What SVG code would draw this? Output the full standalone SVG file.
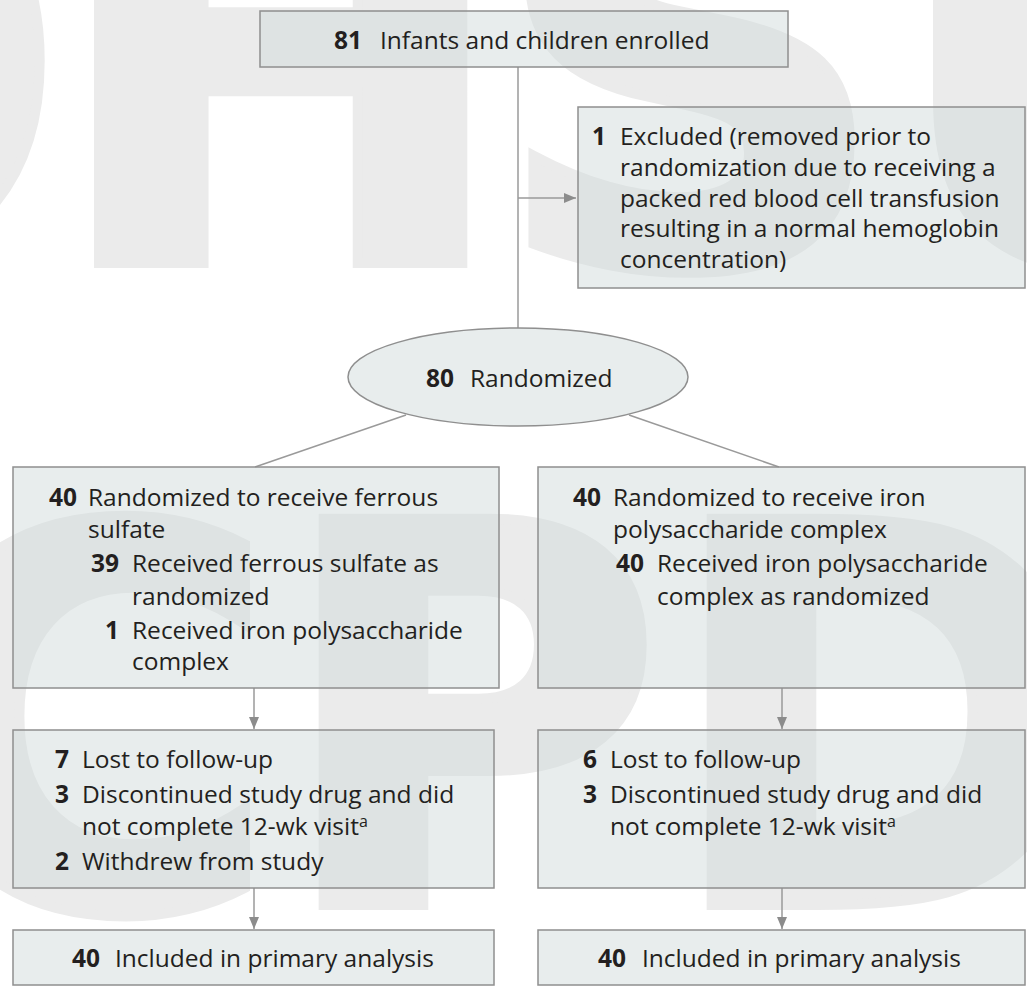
<svg xmlns="http://www.w3.org/2000/svg" width="1027" height="988" viewBox="0 0 1027 988">
<style>
.wm { font-family: "DejaVu Sans", sans-serif; font-weight: bold; fill: #ebebeb; stroke: #ebebeb; stroke-width: 10; stroke-linejoin: miter; }
.wt { font-size: 556px; }
.wb { font-size: 530px; }
.box { fill: #d1dbdb; fill-opacity: 0.5; stroke: #8f8f8f; stroke-width: 1.5; }
.t { font-family: "Open Sans", "Liberation Sans", sans-serif; font-size: 24.5px; fill: #231f20; }
.n { font-weight: bold; }
.c { stroke: #9a9a9a; stroke-width: 1.5; fill: none; }
.sup { font-size: 16px; }
</style>
<defs>
<marker id="ah" markerUnits="userSpaceOnUse" markerWidth="12" markerHeight="10" refX="12" refY="5" orient="auto">
<path d="M0,0 L12,5 L0,10 z" fill="#8c8c8c"/>
</marker>
</defs>
<rect width="1027" height="988" fill="#ffffff"/>
<g id="watermark">
<text class="wm wt" x="-405" y="263">O</text>
<text class="wm wt" x="48" y="263">H</text>
<text class="wm wt" x="490" y="265">S</text>
<text class="wm wt" x="887" y="263">U</text>
<text class="wm wb" x="-110" y="909">C</text>
<text class="wm wb" x="275" y="905">P</text>
<text class="wm wb" x="663" y="905">D</text>
</g>
<g id="connectors">
<line class="c" x1="518" y1="67" x2="518" y2="328"/>
<line class="c" x1="518" y1="198" x2="576" y2="198" marker-end="url(#ah)"/>
<line class="c" x1="406" y1="415" x2="255" y2="467"/>
<line class="c" x1="629" y1="415" x2="779" y2="467"/>
<line class="c" x1="254" y1="688" x2="254" y2="729" marker-end="url(#ah)"/>
<line class="c" x1="782" y1="688" x2="782" y2="729" marker-end="url(#ah)"/>
<line class="c" x1="254" y1="888" x2="254" y2="929" marker-end="url(#ah)"/>
<line class="c" x1="782" y1="888" x2="782" y2="929" marker-end="url(#ah)"/>
</g>
<g id="enrolled">
<rect class="box" x="260" y="11" width="528" height="56"/>
<text class="t n" x="334" y="49">81</text>
<text class="t" x="380" y="49">Infants and children enrolled</text>
</g>
<g id="excluded">
<rect class="box" x="578" y="107" width="447" height="181"/>
<text class="t n" x="606" y="145" text-anchor="end">1</text>
<text class="t" x="620" y="145">Excluded (removed prior to</text>
<text class="t" x="620" y="176">randomization due to receiving a</text>
<text class="t" x="620" y="207">packed red blood cell transfusion</text>
<text class="t" x="620" y="237">resulting in a normal hemoglobin</text>
<text class="t" x="620" y="268">concentration)</text>
</g>
<g id="randomized">
<ellipse class="box" cx="518" cy="377" rx="170" ry="49"/>
<text class="t n" x="426" y="387">80</text>
<text class="t" x="470" y="387">Randomized</text>
</g>
<g id="ferrous">
<rect class="box" x="13" y="467" width="486" height="221"/>
<text class="t n" x="77" y="506" text-anchor="end">40</text>
<text class="t" x="88" y="506">Randomized to receive ferrous</text>
<text class="t" x="88" y="538">sulfate</text>
<text class="t n" x="119" y="572" text-anchor="end">39</text>
<text class="t" x="132" y="572">Received ferrous sulfate as</text>
<text class="t" x="132" y="605">randomized</text>
<text class="t n" x="119" y="639" text-anchor="end">1</text>
<text class="t" x="132" y="639">Received iron polysaccharide</text>
<text class="t" x="132" y="670">complex</text>
</g>
<g id="ips">
<rect class="box" x="538" y="467" width="487" height="221"/>
<text class="t n" x="601" y="506" text-anchor="end">40</text>
<text class="t" x="613" y="506">Randomized to receive iron</text>
<text class="t" x="613" y="538">polysaccharide complex</text>
<text class="t n" x="644" y="572" text-anchor="end">40</text>
<text class="t" x="657" y="572">Received iron polysaccharide</text>
<text class="t" x="657" y="605">complex as randomized</text>
</g>
<g id="lost-ferrous">
<rect class="box" x="13" y="730" width="481" height="158"/>
<text class="t n" x="69" y="768" text-anchor="end">7</text>
<text class="t" x="82" y="768">Lost to follow-up</text>
<text class="t n" x="69" y="803" text-anchor="end">3</text>
<text class="t" x="82" y="803">Discontinued study drug and did</text>
<text class="t" x="82" y="835">not complete 12-wk visit<tspan class="sup" dy="-8">a</tspan></text>
<text class="t n" x="69" y="870" text-anchor="end">2</text>
<text class="t" x="82" y="870">Withdrew from study</text>
</g>
<g id="lost-ips">
<rect class="box" x="538" y="730" width="487" height="158"/>
<text class="t n" x="597" y="768" text-anchor="end">6</text>
<text class="t" x="610" y="768">Lost to follow-up</text>
<text class="t n" x="597" y="803" text-anchor="end">3</text>
<text class="t" x="610" y="803">Discontinued study drug and did</text>
<text class="t" x="610" y="835">not complete 12-wk visit<tspan class="sup" dy="-8">a</tspan></text>
</g>
<g id="analysis-ferrous">
<rect class="box" x="13" y="930" width="481" height="55"/>
<text class="t n" x="72" y="967">40</text>
<text class="t" x="115" y="967">Included in primary analysis</text>
</g>
<g id="analysis-ips">
<rect class="box" x="538" y="930" width="487" height="55"/>
<text class="t n" x="598" y="967">40</text>
<text class="t" x="642" y="967">Included in primary analysis</text>
</g>
</svg>
